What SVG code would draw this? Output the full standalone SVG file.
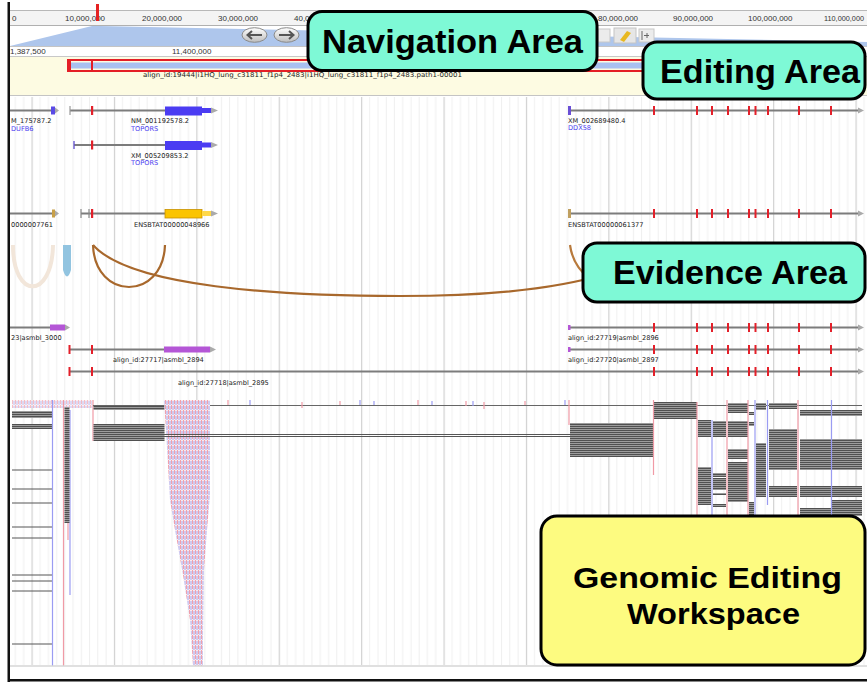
<svg xmlns="http://www.w3.org/2000/svg" width="867" height="682" viewBox="0 0 867 682">
<defs>
<style>
.rl{font-family:"Liberation Sans",Arial,sans-serif;font-size:8px;fill:#333}
.lb{font-family:"DejaVu Sans",Verdana,sans-serif;font-size:6.6px;fill:#222}
.lbb{font-family:"DejaVu Sans",Verdana,sans-serif;font-size:6.6px;fill:#4a3cf0}
.call{font-family:"Liberation Sans",Arial,sans-serif;font-weight:bold;font-size:33px;fill:#000}
.call2{font-family:"Liberation Sans",Arial,sans-serif;font-weight:bold;font-size:30px;fill:#000}
.teal{fill:#7ef9d6;stroke:#000;stroke-width:3}
.yel{fill:#fdfb80;stroke:#000;stroke-width:3}
.gl{stroke:#7c7c7c;stroke-width:2;fill:none}
.red{fill:#e3202a}
.ah{fill:#aaaaaa}
.rd{fill:url(#reads)}
.vr{stroke:#f09aa6;stroke-width:1.2}
.vb{stroke:#9a9cf2;stroke-width:1.2}
.thin{stroke:#555;stroke-width:1}
</style>
<pattern id="grid" patternUnits="userSpaceOnUse" x="31.5" y="0" width="82.4" height="10">
<rect x="0" y="0" width="1.2" height="10" fill="#d0d0d0"/>
<rect x="8.24" y="0" width="0.8" height="10" fill="#ececec"/>
<rect x="16.48" y="0" width="0.8" height="10" fill="#ececec"/>
<rect x="24.72" y="0" width="0.8" height="10" fill="#ececec"/>
<rect x="32.96" y="0" width="0.8" height="10" fill="#ececec"/>
<rect x="41.2" y="0" width="0.8" height="10" fill="#ececec"/>
<rect x="49.44" y="0" width="0.8" height="10" fill="#ececec"/>
<rect x="57.68" y="0" width="0.8" height="10" fill="#ececec"/>
<rect x="65.92" y="0" width="0.8" height="10" fill="#ececec"/>
<rect x="74.16" y="0" width="0.8" height="10" fill="#ececec"/>
</pattern>
<pattern id="reads" patternUnits="userSpaceOnUse" x="0" y="0" width="4" height="2">
<rect x="0" y="0" width="4" height="2" fill="#cfcfcf"/>
<rect x="0" y="0" width="4" height="1.4" fill="#505050"/>
</pattern>
<pattern id="rna" patternUnits="userSpaceOnUse" x="0" y="0" width="3" height="5">
<rect x="0" y="0" width="3" height="5" fill="#f8eaf0"/>
<rect x="0" y="0" width="1" height="4" fill="#f0a0ac"/>
<rect x="1.5" y="1" width="1" height="4" fill="#a6aaf0"/>
</pattern>
<linearGradient id="btn" x1="0" y1="0" x2="0" y2="1">
<stop offset="0" stop-color="#ffffff"/>
<stop offset="1" stop-color="#bdbdbd"/>
</linearGradient>
</defs>

<rect x="0" y="0" width="867" height="682" fill="#fff"/>

<g id="ruler">
<rect x="10" y="10" width="857" height="15" fill="#f4f4f4"/>
<line x1="10" y1="10.5" x2="867" y2="10.5" stroke="#b8b8b8"/>
<line x1="10" y1="25.5" x2="867" y2="25.5" stroke="#b0b0b0"/>
<text class="rl" x="12" y="20.5">0</text>
<text class="rl" x="65" y="20.5">10,000,000</text>
<text class="rl" x="142" y="20.5">20,000,000</text>
<text class="rl" x="218" y="20.5">30,000,000</text>
<text class="rl" x="294" y="20.5">40,000,000</text>
<text class="rl" x="598" y="20.5">80,000,000</text>
<text class="rl" x="673" y="20.5">90,000,000</text>
<text class="rl" x="748" y="20.5">100,000,000</text>
<text class="rl" x="824" y="20.5" textLength="40" lengthAdjust="spacingAndGlyphs">110,000,000</text>
<rect x="96" y="4" width="3" height="17" fill="#e52222"/>
</g>

<g id="navigation-bar">
<polygon points="10,46 92,26 100,26 867,42 867,46" fill="#aec6ec"/>
<ellipse cx="254.5" cy="35" rx="12.5" ry="7.3" fill="url(#btn)" stroke="#8a8a8a"/>
<path d="M262 35 H248 M252 31 L247.5 35 L252 39" stroke="#555" stroke-width="2" fill="none"/>
<ellipse cx="286.5" cy="35" rx="12.5" ry="7.3" fill="url(#btn)" stroke="#8a8a8a"/>
<path d="M279 35 H293 M289 31 L293.5 35 L289 39" stroke="#555" stroke-width="2" fill="none"/>
<rect x="598" y="29" width="12" height="13" fill="#ececec" stroke="#c8c8c8"/>
<rect x="614" y="28" width="22" height="15" fill="#e6e6e6" stroke="#c4c4c4"/>
<path d="M620 40 L627 31 L631 33 L624 42 Z" fill="#e8b820"/>
<rect x="639" y="29" width="15" height="13" fill="#ececec" stroke="#c8c8c8"/>
<line x1="642" y1="31" x2="642" y2="40" stroke="#666"/>
<line x1="644" y1="35.5" x2="649" y2="35.5" stroke="#666"/>
<line x1="647" y1="33" x2="647" y2="38" stroke="#666"/>
<line x1="10" y1="46.5" x2="867" y2="46.5" stroke="#c4c4c4"/>
<text class="rl" x="10" y="53.5">1,387,500</text>
<text class="rl" x="172" y="53.5">11,400,000</text>
<line x1="10" y1="56.5" x2="867" y2="56.5" stroke="#c8c8c8"/>
</g>

<g id="editing-band">
<rect x="10" y="57" width="857" height="38" fill="#fdfbe2"/>
<rect x="68" y="60" width="600" height="11" fill="none" stroke="#e41e26" stroke-width="2"/>
<rect x="69" y="62.5" width="598" height="6" fill="#a9c0f0"/>
<rect x="67" y="59" width="4" height="13" fill="#e41e26"/>
<rect x="91" y="59" width="2" height="13" fill="#e41e26"/>
<text class="lb" x="143" y="77" textLength="319" lengthAdjust="spacingAndGlyphs">align_id:19444|i1HQ_lung_c31811_f1p4_2483|i1HQ_lung_c31811_f1p4_2483.path1-00001</text>
<line x1="10" y1="95.5" x2="867" y2="95.5" stroke="#c4c4c4"/>
</g>

<rect x="10" y="97" width="857" height="568" fill="url(#grid)"/>

<g id="track-refseq">
<line class="gl" x1="10" y1="110.5" x2="53" y2="110.5"/>
<rect x="51" y="106.5" width="4" height="8" fill="#5a4ae6"/>
<polygon class="ah" points="55,107.5 59,110.5 55,113.5"/>
<text class="lb" x="11" y="123">M_175787.2</text>
<text class="lbb" x="11" y="130.5">DUFB6</text>

<line class="gl" x1="70" y1="110.5" x2="211" y2="110.5"/>
<line x1="70" y1="106" x2="70" y2="115" stroke="#999" stroke-width="1.2"/>
<rect class="red" x="91" y="106" width="2.2" height="9"/>
<rect x="165" y="106.5" width="37" height="9" fill="#4b3cf2"/>
<rect x="202" y="108" width="9" height="5" fill="#4b3cf2"/>
<polygon class="ah" points="211,107.5 218,110.5 211,113.5"/>
<text class="lb" x="131" y="123">NM_001192578.2</text>
<text class="lbb" x="131" y="130.5">TOPORS</text>

<line class="gl" x1="74" y1="145" x2="211" y2="145"/>
<line x1="74" y1="141" x2="74" y2="149" stroke="#6a5ad0" stroke-width="1.4"/>
<rect class="red" x="91" y="140.5" width="2.2" height="9"/>
<rect x="165" y="141" width="37" height="9" fill="#4b3cf2"/>
<rect x="202" y="142.5" width="9" height="5" fill="#4b3cf2"/>
<polygon class="ah" points="211,142 218,145 211,148"/>
<text class="lb" x="131" y="157.5">XM_005209853.2</text>
<text class="lbb" x="131" y="164.5">TOPORS</text>

<line class="gl" x1="569" y1="110.5" x2="860" y2="110.5"/>
<rect x="568" y="106" width="3" height="9" fill="#6a4fd6"/>
<polygon class="ah" points="858,107.5 864,110.5 858,113.5"/>
<rect class="red" x="653" y="106" width="2" height="9"/>
<rect class="red" x="696" y="106" width="2" height="9"/>
<rect class="red" x="711" y="106" width="2" height="9"/>
<rect class="red" x="727" y="106" width="2" height="9"/>
<rect class="red" x="748" y="106" width="2" height="9"/>
<rect class="red" x="754.5" y="106" width="2" height="9"/>
<rect class="red" x="767" y="106" width="2" height="9"/>
<rect class="red" x="798" y="106" width="2" height="9"/>
<rect class="red" x="830" y="106" width="2" height="9"/>
<text class="lb" x="568" y="122.5">XM_002689480.4</text>
<text class="lbb" x="568" y="130">DDX58</text>
</g>

<g id="track-ensembl">
<line class="gl" x1="10" y1="213.5" x2="53" y2="213.5"/>
<rect x="52" y="209.5" width="3" height="8" fill="#c8a048"/>
<polygon class="ah" points="55,210.5 59,213.5 55,216.5"/>
<text class="lb" x="11" y="226.5">0000007761</text>

<line class="gl" x1="81" y1="213.5" x2="211" y2="213.5"/>
<line x1="81" y1="209" x2="81" y2="218" stroke="#888" stroke-width="1.2"/>
<line x1="89" y1="209" x2="89" y2="218" stroke="#888" stroke-width="1.2"/>
<rect class="red" x="91" y="209" width="2.2" height="9"/>
<rect x="165" y="209.5" width="37" height="8.5" fill="#fbc400" stroke="#c89200" stroke-width="0.8"/>
<rect x="202" y="211" width="9" height="5" fill="#ffd84a"/>
<polygon class="ah" points="211,210.5 218,213.5 211,216.5"/>
<text class="lb" x="134" y="226.5">ENSBTAT00000048966</text>

<line class="gl" x1="569" y1="213.5" x2="860" y2="213.5"/>
<rect x="568" y="209" width="3" height="9" fill="#c0a060"/>
<polygon class="ah" points="858,210.5 864,213.5 858,216.5"/>
<rect class="red" x="653" y="209" width="2" height="9"/>
<rect class="red" x="696" y="209" width="2" height="9"/>
<rect class="red" x="711" y="209" width="2" height="9"/>
<rect class="red" x="727" y="209" width="2" height="9"/>
<rect class="red" x="748" y="209" width="2" height="9"/>
<rect class="red" x="754.5" y="209" width="2" height="9"/>
<rect class="red" x="767" y="209" width="2" height="9"/>
<rect class="red" x="798" y="209" width="2" height="9"/>
<rect class="red" x="830" y="209" width="2" height="9"/>
<text class="lb" x="568" y="226.5">ENSBTAT00000061377</text>
</g>

<g id="connectors">
<path d="M13 245 C13 300 52 300 53 245" fill="none" stroke="#f2e6da" stroke-width="4"/>
<path d="M63 245 L63 270 Q67 283 71 270 L71 245 Z" fill="#92c4e0"/>
<path d="M93 245 C95 301 163 301 165 245" fill="none" stroke="#a8682c" stroke-width="2.2"/>
<path d="M93 245 C130 287 280 296 400 296 C480 296 550 291 605 274" fill="none" stroke="#a8682c" stroke-width="2.2"/>
<path d="M570 245 C572 260 578 270 590 279" fill="none" stroke="#b87a3c" stroke-width="2.2"/>
</g>

<g id="track-alignments">
<line class="gl" x1="10" y1="327.5" x2="51" y2="327.5"/>
<rect x="50" y="324.5" width="15" height="6" fill="#b456d6"/>
<polygon class="ah" points="65,324.5 70,327.5 65,330.5"/>
<text class="lb" x="11" y="340">23|asmbl_3000</text>

<line class="gl" x1="69" y1="349.5" x2="211" y2="349.5"/>
<rect class="red" x="68.5" y="345" width="2" height="9"/>
<rect class="red" x="91" y="345" width="2" height="9"/>
<rect x="164" y="346.5" width="46" height="6" fill="#b456d6"/>
<polygon class="ah" points="210,346.5 216,349.5 210,352.5"/>
<text class="lb" x="113" y="362">align_id:27717|asmbl_2894</text>

<line class="gl" x1="69" y1="371.5" x2="860" y2="371.5"/>
<rect class="red" x="68.5" y="367" width="2" height="9"/>
<rect class="red" x="91" y="367" width="2" height="9"/>
<polygon class="ah" points="858,368.5 864,371.5 858,374.5"/>
<rect class="red" x="653" y="367" width="2" height="9"/>
<rect class="red" x="696" y="367" width="2" height="9"/>
<rect class="red" x="711" y="367" width="2" height="9"/>
<rect class="red" x="727" y="367" width="2" height="9"/>
<rect class="red" x="748" y="367" width="2" height="9"/>
<rect class="red" x="754.5" y="367" width="2" height="9"/>
<rect class="red" x="767" y="367" width="2" height="9"/>
<rect class="red" x="798" y="367" width="2" height="9"/>
<rect class="red" x="830" y="367" width="2" height="9"/>
<text class="lb" x="178" y="385">align_id:27718|asmbl_2895</text>

<line class="gl" x1="569" y1="327.5" x2="860" y2="327.5"/>
<rect x="568" y="325" width="2.5" height="5" fill="#b456d6"/>
<polygon class="ah" points="858,324.5 864,327.5 858,330.5"/>
<rect class="red" x="653" y="323" width="2" height="9"/>
<rect class="red" x="696" y="323" width="2" height="9"/>
<rect class="red" x="711" y="323" width="2" height="9"/>
<rect class="red" x="727" y="323" width="2" height="9"/>
<rect class="red" x="748" y="323" width="2" height="9"/>
<rect class="red" x="754.5" y="323" width="2" height="9"/>
<rect class="red" x="767" y="323" width="2" height="9"/>
<rect class="red" x="798" y="323" width="2" height="9"/>
<rect class="red" x="830" y="323" width="2" height="9"/>
<text class="lb" x="568" y="339.5">align_id:27719|asmbl_2896</text>

<line class="gl" x1="569" y1="349.5" x2="860" y2="349.5"/>
<rect x="568" y="347" width="2.5" height="5" fill="#b456d6"/>
<polygon class="ah" points="858,346.5 864,349.5 858,352.5"/>
<rect class="red" x="653" y="345" width="2" height="9"/>
<rect class="red" x="696" y="345" width="2" height="9"/>
<rect class="red" x="711" y="345" width="2" height="9"/>
<rect class="red" x="727" y="345" width="2" height="9"/>
<rect class="red" x="748" y="345" width="2" height="9"/>
<rect class="red" x="754.5" y="345" width="2" height="9"/>
<rect class="red" x="767" y="345" width="2" height="9"/>
<rect class="red" x="798" y="345" width="2" height="9"/>
<rect class="red" x="830" y="345" width="2" height="9"/>
<text class="lb" x="568" y="362">align_id:27720|asmbl_2897</text>
</g>

<g id="track-reads">
<rect x="12" y="400" width="80" height="8" fill="url(#rna)" opacity="0.7"/>
<rect class="rd" x="12" y="411" width="40" height="7"/>
<rect class="rd" x="12" y="424" width="40" height="5"/>
<line class="thin" x1="12" y1="470" x2="52" y2="470"/>
<line class="thin" x1="12" y1="489" x2="52" y2="489"/>
<line class="thin" x1="12" y1="503" x2="52" y2="503"/>
<line class="thin" x1="12" y1="527" x2="52" y2="527"/>
<line class="thin" x1="12" y1="538" x2="52" y2="538"/>
<line class="thin" x1="12" y1="575" x2="52" y2="575"/>
<line class="thin" x1="12" y1="581" x2="52" y2="581"/>
<line class="thin" x1="12" y1="591" x2="52" y2="591"/>
<line class="thin" x1="12" y1="644" x2="52" y2="644"/>
<line class="vb" x1="52.5" y1="400" x2="52.5" y2="666"/>
<line class="vr" x1="63.5" y1="400" x2="63.5" y2="666"/>
<line class="vb" x1="70" y1="410" x2="70" y2="595"/>
<line class="vr" x1="68" y1="410" x2="68" y2="540"/>
<rect class="rd" x="64.5" y="407" width="5" height="116"/>
<line class="vr" x1="93" y1="400" x2="93" y2="441"/>
<rect class="rd" x="93.5" y="405" width="71" height="5"/>
<rect class="rd" x="93.5" y="424" width="71" height="17"/>
<line x1="93" y1="405.5" x2="862" y2="405.5" stroke="#666" stroke-width="1"/>
<polygon points="164,400 210,400 210,495 207,530 204,570 203,640 203,666 193,666 190,620 183,575 175,530 170,500 166,430" fill="url(#rna)"/>
<line x1="164" y1="434.5" x2="570" y2="434.5" stroke="#555" stroke-width="1"/>
<line x1="164" y1="436.5" x2="570" y2="436.5" stroke="#555" stroke-width="1"/>
<line class="vr" x1="228" y1="400" x2="228" y2="405"/>
<line class="vb" x1="250" y1="400" x2="250" y2="405"/>
<line class="vr" x1="302" y1="402" x2="302" y2="408"/>
<line class="vr" x1="340" y1="401" x2="340" y2="405"/>
<line class="vb" x1="360" y1="400" x2="360" y2="405"/>
<line class="vb" x1="374" y1="401" x2="374" y2="405"/>
<line class="vr" x1="418" y1="400" x2="418" y2="405"/>
<line class="vb" x1="432" y1="401" x2="432" y2="405"/>
<line class="vr" x1="466" y1="401" x2="466" y2="406"/>
<line class="vb" x1="473" y1="401" x2="473" y2="406"/>
<line class="vr" x1="484" y1="402" x2="484" y2="409"/>
<line class="vr" x1="525" y1="401" x2="525" y2="405"/>
<line class="vb" x1="565" y1="400" x2="565" y2="405"/>
<line class="vr" x1="569" y1="400" x2="569" y2="425"/>
<rect class="rd" x="570" y="423" width="83" height="34"/>
<rect class="rd" x="654" y="402" width="43" height="17"/>
<rect class="rd" x="698" y="420" width="13" height="17"/>
<rect class="rd" x="698" y="467" width="13" height="38"/>
<rect class="rd" x="713" y="421" width="13" height="16"/>
<rect class="rd" x="713" y="473" width="13" height="4"/>
<rect class="rd" x="713" y="478" width="13" height="12"/>
<rect class="rd" x="713" y="493" width="13" height="2"/>
<rect class="rd" x="713" y="504" width="13" height="3"/>
<rect class="rd" x="728" y="403" width="20" height="10"/>
<rect class="rd" x="728" y="421" width="20" height="16"/>
<rect class="rd" x="728" y="449" width="20" height="10"/>
<rect class="rd" x="728" y="462" width="20" height="40"/>
<rect class="rd" x="749" y="412" width="5" height="3"/>
<rect class="rd" x="749" y="422" width="5" height="4"/>
<rect class="rd" x="749" y="502" width="5" height="14"/>
<rect class="rd" x="756" y="403" width="10" height="7"/>
<rect class="rd" x="756" y="443" width="10" height="54"/>
<rect class="rd" x="769" y="403" width="28" height="6"/>
<rect class="rd" x="769" y="429" width="28" height="41"/>
<rect class="rd" x="769" y="486" width="28" height="11"/>
<rect class="rd" x="800" y="410" width="31" height="6"/>
<rect class="rd" x="800" y="439" width="31" height="31"/>
<rect class="rd" x="800" y="486" width="31" height="11"/>
<rect class="rd" x="800" y="508" width="31" height="8"/>
<rect class="rd" x="832" y="410" width="30" height="6"/>
<rect class="rd" x="832" y="439" width="30" height="31"/>
<rect class="rd" x="832" y="486" width="30" height="11"/>
<rect class="rd" x="832" y="500" width="30" height="16"/>
<line class="vr" x1="653.5" y1="400" x2="653.5" y2="475"/>
<line class="vr" x1="697" y1="402" x2="697" y2="516"/>
<line class="vb" x1="712" y1="420" x2="712" y2="516"/>
<line class="vr" x1="727" y1="400" x2="727" y2="516"/>
<line class="vr" x1="748" y1="400" x2="748" y2="516"/>
<line class="vb" x1="755" y1="400" x2="755" y2="516"/>
<line class="vb" x1="767.5" y1="400" x2="767.5" y2="505"/>
<line class="vr" x1="798" y1="400" x2="798" y2="516"/>
<line class="vb" x1="831.5" y1="400" x2="831.5" y2="516"/>
</g>

<line x1="10" y1="666" x2="867" y2="666" stroke="#d6d6d6" stroke-width="1.5"/>
<rect x="7.5" y="2" width="2.5" height="680" fill="#111"/>
<rect x="8" y="679" width="859" height="2.5" fill="#111"/>

<g id="callout-navigation">
<rect class="teal" x="308" y="11.5" width="289" height="59" rx="14"/>
<text class="call" x="322" y="53" textLength="261" lengthAdjust="spacingAndGlyphs">Navigation Area</text>
</g>
<g id="callout-editing">
<rect class="teal" x="643" y="42" width="222" height="57" rx="14"/>
<text class="call" x="660" y="83" textLength="200" lengthAdjust="spacingAndGlyphs">Editing Area</text>
</g>
<g id="callout-evidence">
<rect class="teal" x="583" y="243" width="282" height="59" rx="14"/>
<text class="call" x="613" y="284" textLength="234" lengthAdjust="spacingAndGlyphs">Evidence Area</text>
</g>
<g id="callout-workspace">
<rect class="yel" x="541" y="516" width="324" height="149" rx="16"/>
<text class="call2" x="573" y="588" textLength="269" lengthAdjust="spacingAndGlyphs">Genomic Editing</text>
<text class="call2" x="627" y="624" textLength="173" lengthAdjust="spacingAndGlyphs">Workspace</text>
</g>
</svg>
